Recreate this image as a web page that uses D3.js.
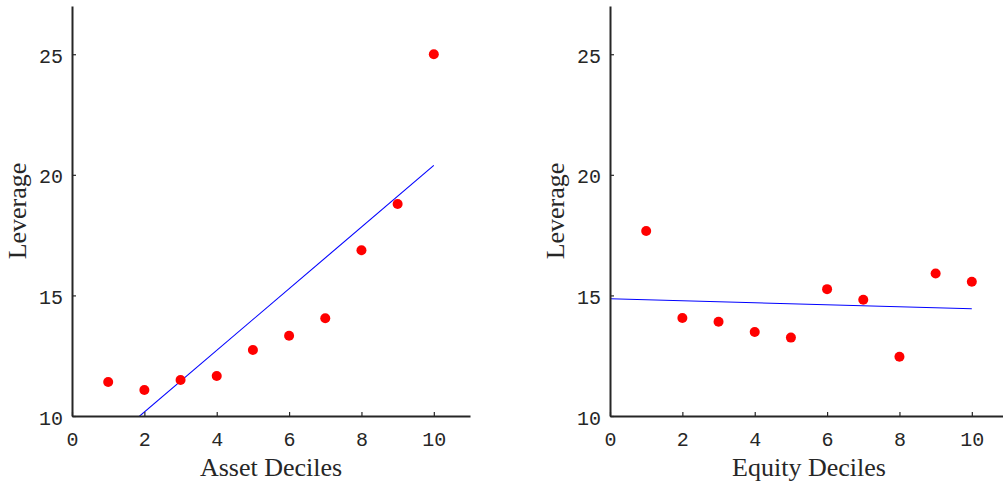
<!DOCTYPE html>
<html>
<head>
<meta charset="utf-8">
<script src="https://cdn.jsdelivr.net/npm/d3@7"></script>
<style>
  body { margin: 0; background: #fff; }
  svg { display: block; }
  .tick-label { font-family: "Liberation Mono", "DejaVu Sans Mono", monospace; font-size: 20px; fill: #262626; }
  .axis-title { font-family: "Liberation Serif", "DejaVu Serif", serif; font-size: 26px; fill: #262626; }
</style>
</head>
<body>
<svg id="chart" width="1003" height="483"></svg>
<script>
// -----------------------------------------------------------------------------
// data

var deciles = [1, 2, 3, 4, 5, 6, 7, 8, 9, 10];

var assetLeverage = [11.41, 11.08, 11.49, 11.66, 12.74, 13.33, 14.05, 16.87, 18.79, 25.0];
var equityLeverage = [17.67, 14.06, 13.91, 13.48, 13.25, 15.26, 14.82, 12.46, 15.91, 15.57];

// fitted line end points (x, y) as drawn
var assetFitX = [0, 10];
var assetFitY = [7.61, 20.39];
var equityFitX = [0, 10];
var equityFitY = [14.86, 14.45];

var xTicks = [0, 2, 4, 6, 8, 10];
var yTicks = [10, 15, 20, 25];

var panels = [
  { id: 'asset', left: 72, xLabel: 'Asset Deciles', values: assetLeverage, fitX: assetFitX, fitY: assetFitY },
  { id: 'equity', left: 610, xLabel: 'Equity Deciles', values: equityLeverage, fitX: equityFitX, fitY: equityFitY }
];

// -----------------------------------------------------------------------------

var svg = d3.select('#chart');
var plotTop = 6, plotBottom = 416, plotWidth = 398;
var axisColor = '#262626';
var tickLen = 4;

panels.forEach(function (p) {
  // - - - - - - - - - - - - - - - - - - - - - - - - - - - - - - - - - - - - - -

  var x = d3.scaleLinear().domain([0, 11]).range([p.left, p.left + plotWidth]);
  var y = d3.scaleLinear().domain([10, 27]).range([plotBottom, plotTop]);

  var g = svg.append('g').classed('panel-' + p.id, true);

  var clipId = 'clip-' + p.id;
  g.append('clipPath')
    .attr('id', clipId)
    .append('rect')
    .attr('x', p.left)
    .attr('y', plotTop)
    .attr('width', plotWidth)
    .attr('height', plotBottom - plotTop);

  // - - - - - - - - - - - - - - - - - - - - - - - - - - - - - - - - - - - - - -

  var fit = p.fitX.map(function (d, i) { return [d, p.fitY[i]]; });
  g.append('path')
    .datum(fit)
    .attr('clip-path', 'url(#' + clipId + ')')
    .attr('fill', 'none')
    .attr('stroke', '#0000ff')
    .attr('stroke-width', 1.1)
    .attr('d', d3.line()
      .x(function (d) { return x(d[0]); })
      .y(function (d) { return y(d[1]); }));

  g.append('g')
    .selectAll('circle')
    .data(deciles.map(function (d, i) { return { x: d, y: p.values[i] }; }))
    .join('circle')
    .attr('cx', function (d) { return x(d.x); })
    .attr('cy', function (d) { return y(d.y); })
    .attr('r', 5)
    .attr('fill', '#ff0000');

  // - - - - - - - - - - - - - - - - - - - - - - - - - - - - - - - - - - - - - -

  var xAxis = g.append('g')
    .attr('transform', 'translate(0,' + plotBottom + ')')
    .call(d3.axisBottom(x).tickValues(xTicks).tickSizeInner(-tickLen).tickSizeOuter(0).tickPadding(16));
  var yAxis = g.append('g')
    .attr('transform', 'translate(' + p.left + ',0)')
    .call(d3.axisLeft(y).tickValues(yTicks).tickSizeInner(-tickLen).tickSizeOuter(0).tickPadding(9));

  [xAxis, yAxis].forEach(function (a) {
    a.select('.domain').attr('stroke', axisColor).attr('stroke-width', 2);
    a.selectAll('.tick line').attr('stroke', axisColor).attr('stroke-width', 1.2);
    a.selectAll('.tick text')
      .attr('class', 'tick-label')
      .attr('fill', null);
  });
  xAxis.selectAll('.tick text').attr('dy', '0.71em');
  yAxis.selectAll('.tick text').attr('dy', '0.4em');

  // - - - - - - - - - - - - - - - - - - - - - - - - - - - - - - - - - - - - - -

  g.append('text')
    .attr('class', 'axis-title')
    .attr('x', x(5.5))
    .attr('y', 476)
    .attr('text-anchor', 'middle')
    .text(p.xLabel);

  g.append('text')
    .attr('class', 'axis-title')
    .attr('transform', 'translate(' + (p.left - 46) + ',' + y(18.5) + ') rotate(-90)')
    .attr('text-anchor', 'middle')
    .text('Leverage');
});

// -----------------------------------------------------------------------------
</script>
</body>
</html>
